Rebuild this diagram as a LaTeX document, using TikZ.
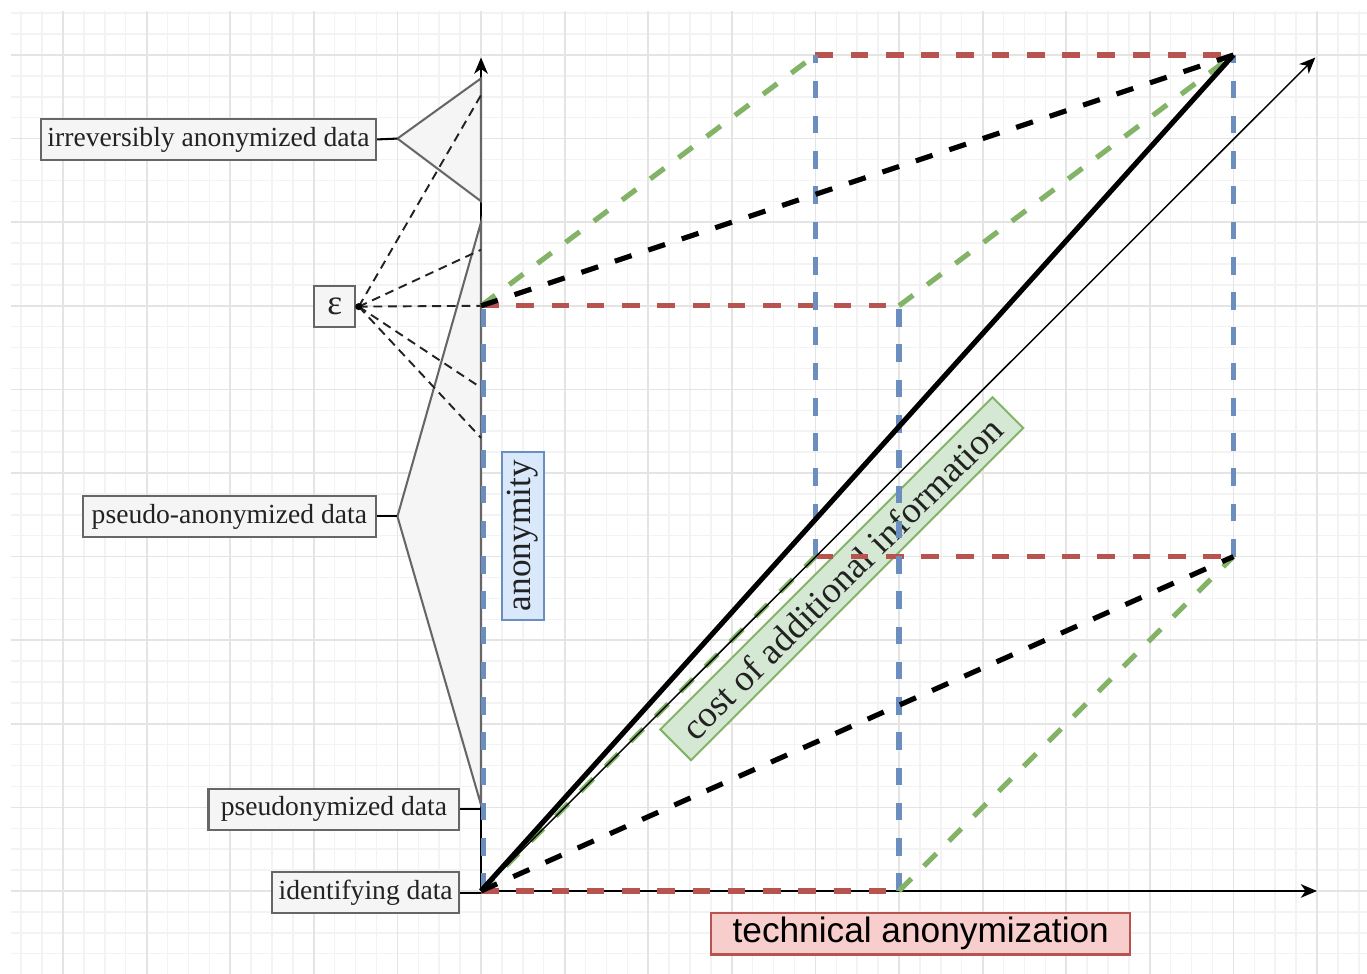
\documentclass[tikz,border=0pt]{standalone}
\usepackage{fontspec}
\setmainfont{Liberation Serif}
\newfontfamily\labelsans{Liberation Sans}
\usetikzlibrary{arrows.meta,calc}

\definecolor{gridmajor}{HTML}{E4E4E4}
\definecolor{gridminor}{HTML}{F3F3F3}
\definecolor{redln}{HTML}{B85450}
\definecolor{redfill}{HTML}{F8CECC}
\definecolor{blueln}{HTML}{6C8EBF}
\definecolor{bluefill}{HTML}{DAE8FC}
\definecolor{greenln}{HTML}{82B366}
\definecolor{greenfill}{HTML}{D5E8D4}
\definecolor{boxln}{HTML}{666666}
\definecolor{boxfill}{HTML}{F5F5F5}
\definecolor{txt}{HTML}{222222}

\tikzset{
  lbl/.style={draw=boxln, fill=boxfill, line width=0.7pt, text=txt,
    font=\fontsize{9.4}{11}\selectfont, minimum height=0.49cm, inner sep=0pt},
  bigtext/.style={font=\fontsize{12}{14}\selectfont, inner sep=0pt, line width=0.7pt},
  edgedash/.style={line width=1.75pt, dash pattern=on 6pt off 6pt},
  rededge/.style={edgedash, draw=redln},
  blueedge/.style={edgedash, draw=blueln},
  greenedge/.style={edgedash, draw=greenln},
  blackedge/.style={edgedash, draw=black},
  axis/.style={line width=0.75pt, -{Stealth[length=5.5pt,width=4.6pt,inset=1.6pt]}},
  bracket/.style={draw=boxln, fill=boxfill, line width=0.7pt},
  epsline/.style={line width=0.65pt, draw=txt, dash pattern=on 3pt off 2pt},
}

\begin{document}
\begin{tikzpicture}
\useasboundingbox (-5.754,-0.993) rectangle (10.598,10.658);

% background grid
\draw[gridminor, line width=0.5pt] (-5.622,-0.993) grid[step=0.25] (10.598,10.524);
\draw[gridmajor, line width=0.6pt] (-5.622,-0.993) grid[step=1] (10.598,10.524);

% corners of the front and back faces
\coordinate (O)  at (0,0);
\coordinate (A)  at (5,0);
\coordinate (B)  at (5,7);
\coordinate (C)  at (0,7);
\coordinate (Ob) at (4,4);
\coordinate (Ab) at (9,4);
\coordinate (Bb) at (9,10);
\coordinate (Cb) at (4,10);
\coordinate (ytop) at (0,9.97);
\coordinate (xend) at (10,0);
\coordinate (dend) at (9.98,9.97);

% axes
\draw[axis] (O) -- (ytop);
\draw[axis] (O) -- (xend);

% brackets on the anonymity axis
\coordinate (irrtip) at (-1.0,9.0);
\coordinate (irrhi) at (0,9.72);
\coordinate (irrlo) at (0,8.25);
\coordinate (pstip) at (-1.0,4.48);
\coordinate (pshi) at (0,8.0);
\coordinate (pslo) at (0,1.03);
\draw[bracket] (irrtip) -- (irrhi) -- (irrlo) -- cycle;
\draw[bracket] (pstip) -- (pshi) -- (pslo) -- cycle;

% labels on the left
\node[lbl, minimum width=4.01cm] (irr) at (-3.26,8.99) {irreversibly anonymized data};
\node[lbl, minimum width=3.50cm] (pan) at (-3.01,4.48) {pseudo-anonymized data};
\node[lbl, minimum width=3.00cm] (psd) at (-1.76,0.98) {pseudonymized data};
\node[lbl, minimum width=2.24cm] (idf) at (-1.38,-0.02) {identifying data};
\node[lbl, minimum width=0.49cm, font=\fontsize{12}{14}\selectfont] (eps) at (-1.75,6.99) {ε};

\draw[line width=0.7pt] (irr.east) -- (irrtip);
\draw[line width=0.7pt] (pan.east) -- (pstip);
\draw[line width=0.7pt] (psd.east) -- (psd.east -| O);
\draw[line width=0.7pt] (idf.east) -- (idf.east -| O);

% epsilon spread along the axis
\coordinate (epsdot) at ($(eps.east)+(0.03,0)$);
\coordinate (e1) at (0,9.52);
\coordinate (e2) at (0,7.67);
\coordinate (e4) at (0,6.02);
\coordinate (e5) at (0,5.42);
\foreach \t in {e1,e2,C,e4,e5} \draw[epsline] (epsdot) -- (\t);
\fill[black] (epsdot) circle (1.2pt);

% label along the diagonal
\node[bigtext, rotate=45, draw=greenln, fill=greenfill, text=txt,
      font=\fontsize{12.5}{14}\selectfont,
      minimum width=5.62cm, minimum height=0.52cm] (cost) at (4.315,3.735)
      {cost of additional information};

% cube edges
\draw[rededge] (O) -- (A);
\draw[rededge] (C) -- (B);
\draw[rededge] (Ob) -- (Ab);
\draw[rededge] (Cb) -- (Bb);
\draw[blueedge] ([xshift=0.03cm]O) -- ([xshift=0.03cm]C);
\draw[blueedge] (A) -- (B);
\draw[blueedge] (Ob) -- (Cb);
\draw[blueedge] (Ab) -- (Bb);
\draw[greenedge] (O) -- (Ob);
\draw[greenedge] (A) -- (Ab);
\draw[greenedge] (C) -- (Cb);
\draw[greenedge] (B) -- (Bb);
\draw[blackedge] (C) -- (Bb);
\draw[blackedge] (O) -- (Ab);
\draw[line width=1.75pt] (O) -- (Bb);
\draw[line width=0.5pt, -{Stealth[length=5.5pt,width=4.6pt,inset=1.6pt]}] (O) -- (dend);

% axis titles
\node[bigtext, rotate=90, draw=blueln, fill=bluefill, text=txt,
      minimum width=2.01cm, minimum height=0.5cm] (anon) at (0.50,4.25) {anonymity};
\node[bigtext, draw=redln, fill=redfill, font=\labelsans\fontsize{12}{14}\selectfont,
      minimum width=5.01cm, minimum height=0.5cm] (tech) at (5.26,-0.51) {technical anonymization};
\end{tikzpicture}
\end{document}
